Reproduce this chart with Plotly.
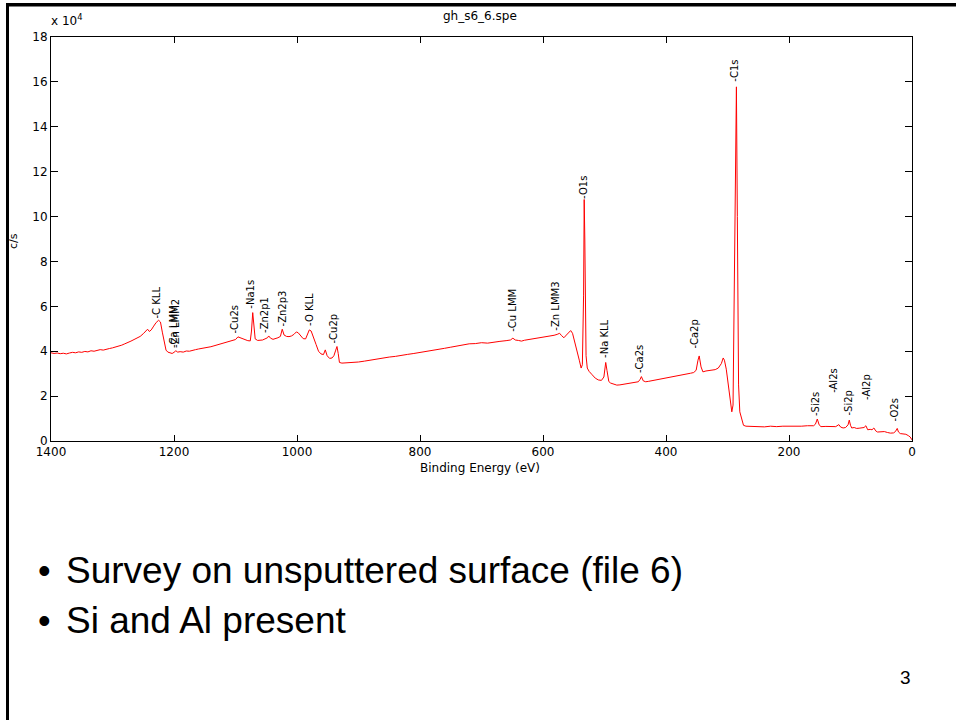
import plotly.graph_objects as go

# ---------------- data ----------------
binding_energy = [
    1400, 1395, 1390, 1385, 1380, 1375, 1370, 1365, 1360, 1355, 1350, 1345, 1340, 1335,
    1330, 1325, 1320, 1315, 1310, 1305, 1300, 1295, 1290, 1285, 1280, 1275, 1270, 1265,
    1260, 1255, 1250, 1246, 1243, 1240, 1237, 1233, 1229, 1225, 1222, 1219, 1216, 1213,
    1210, 1206, 1203, 1200, 1197, 1194, 1190, 1185, 1180, 1175, 1170, 1165, 1160, 1155,
    1150, 1145, 1140, 1135, 1130, 1125, 1120, 1115, 1110, 1105, 1100, 1096, 1092, 1088,
    1084, 1080, 1076, 1074, 1072, 1070, 1068, 1064, 1060, 1056, 1052, 1048, 1046, 1043,
    1039, 1035, 1031, 1027, 1024, 1021, 1017, 1013, 1009, 1005, 1001, 998, 994, 990,
    986, 983, 980, 977, 973, 969, 965, 961, 957, 954, 951, 947, 943, 940,
    937, 935, 933, 931, 927, 920, 910, 900, 890, 880, 870, 860, 850, 840,
    830, 820, 810, 800, 790, 780, 770, 760, 750, 740, 730, 720, 710, 700,
    690, 680, 670, 660, 653, 649, 645, 640, 635, 630, 620, 610, 600, 590,
    582, 577, 573, 570, 566, 562, 558, 555, 552, 548, 545, 541, 538, 536,
    534, 533, 532, 530, 528, 525, 520, 515, 510, 505, 501, 498, 496, 493,
    490, 485, 480, 475, 470, 465, 460, 455, 450, 445, 442, 440, 437, 433,
    428, 420, 410, 400, 390, 380, 370, 360, 355, 351, 348, 346, 343, 340,
    335, 330, 325, 320, 315, 310, 307, 305, 302, 299, 296, 293, 291, 289,
    287, 285.5, 284, 282, 280, 277, 274, 270, 260, 250, 240, 230, 220, 210,
    200, 190, 180, 170, 165, 160, 157, 154, 151, 148, 140, 130, 124, 119,
    116, 112, 108, 104, 102, 100, 98, 94, 90, 86, 82, 78, 75, 72,
    68, 65, 62, 59, 56, 50, 45, 40, 35, 30, 27, 24, 22, 19,
    15, 10, 6, 3, 0,
]
intensity_1e4 = [
    3.93, 3.90, 3.92, 3.89, 3.91, 3.88, 3.92, 3.95, 3.93, 3.97, 3.95, 3.99, 3.97, 4.02,
    4.00, 4.04, 4.07, 4.05, 4.10, 4.12, 4.15, 4.18, 4.22, 4.27, 4.33, 4.38, 4.45, 4.52,
    4.58, 4.66, 4.78, 4.92, 4.98, 4.88, 4.95, 5.12, 5.28, 5.38, 5.30, 4.85, 4.35, 4.05,
    3.96, 3.92, 3.90, 3.95, 4.02, 3.96, 3.98, 3.96, 4.01, 4.00, 4.05, 4.07, 4.10, 4.12,
    4.15, 4.17, 4.20, 4.24, 4.28, 4.30, 4.35, 4.38, 4.42, 4.47, 4.52, 4.64, 4.60, 4.55,
    4.50, 4.47, 4.46, 4.90, 5.72, 5.10, 4.55, 4.48, 4.49, 4.50, 4.55, 4.60, 4.68, 4.58,
    4.53, 4.55, 4.60, 4.66, 4.98, 4.72, 4.66, 4.65, 4.68, 4.75, 4.86, 4.82, 4.68, 4.56,
    4.55, 4.72, 4.95, 4.90, 4.55, 4.30, 4.00, 3.88, 3.85, 4.06, 3.80, 3.68, 3.70, 3.80,
    4.05, 4.21, 3.90, 3.50, 3.47, 3.48, 3.50, 3.52, 3.56, 3.61, 3.66, 3.70, 3.74, 3.77,
    3.83, 3.86, 3.90, 3.94, 3.98, 4.03, 4.08, 4.13, 4.18, 4.24, 4.30, 4.33, 4.34, 4.38,
    4.36, 4.41, 4.44, 4.47, 4.50, 4.58, 4.50, 4.48, 4.45, 4.49, 4.53, 4.57, 4.63, 4.67,
    4.71, 4.75, 4.80, 4.70, 4.60, 4.72, 4.85, 4.92, 4.80, 4.40, 4.00, 3.60, 3.25, 3.40,
    6.50, 10.76, 9.00, 3.80, 3.25, 3.10, 2.95, 2.80, 2.72, 2.70, 2.85, 3.50, 3.15, 2.65,
    2.58, 2.53, 2.49, 2.50, 2.52, 2.55, 2.57, 2.60, 2.62, 2.64, 2.75, 2.87, 2.68, 2.64,
    2.66, 2.70, 2.74, 2.80, 2.86, 2.91, 2.96, 3.02, 3.05, 3.15, 3.60, 3.79, 3.30, 3.08,
    3.12, 3.15, 3.16, 3.18, 3.25, 3.45, 3.70, 3.60, 3.20, 2.50, 1.80, 1.30, 1.60, 6.00,
    12.00, 15.78, 10.00, 2.50, 1.30, 0.95, 0.70, 0.66, 0.64, 0.65, 0.63, 0.66, 0.64, 0.66,
    0.65, 0.67, 0.66, 0.68, 0.67, 0.68, 0.75, 0.98, 0.72, 0.64, 0.65, 0.63, 0.64, 0.73,
    0.62, 0.58, 0.60, 0.72, 0.93, 0.70, 0.58, 0.60, 0.56, 0.57, 0.58, 0.60, 0.68, 0.50,
    0.52, 0.50, 0.58, 0.45, 0.40, 0.40, 0.42, 0.38, 0.35, 0.36, 0.42, 0.56, 0.40, 0.33,
    0.32, 0.30, 0.24, 0.18, 0.05,
]

peak_labels = ["-C KLL", "-Ca LMM", "-Zn LMM2", "-Cu2s", "-Na1s", "-Zn2p1", "-Zn2p3",
               "-O KLL", "-Cu2p", "-Cu LMM", "-Zn LMM3", "-O1s", "-Na KLL", "-Ca2s",
               "-Ca2p", "-C1s", "-Si2s", "-Al2s", "-Si2p", "-Al2p", "-O2s"]
peak_energy = [1229, 1201, 1198, 1101, 1075, 1054, 1024, 980, 941, 649, 579, 535, 499, 444,
               353, 288, 156, 128, 104, 75, 28]
peak_label_base = [5.42, 4.09, 4.09, 4.76, 5.87, 4.76, 5.07, 5.07, 4.31, 4.84, 4.89, 10.76,
                   3.64, 2.98, 4.09, 15.96, 1.07, 2.09, 1.07, 1.78, 0.84]

x_tick_values = [1400, 1200, 1000, 800, 600, 400, 200, 0]
y_tick_values = [0, 2, 4, 6, 8, 10, 12, 14, 16, 18]

chart_title = "gh_s6_6.spe"
x_title = "Binding Energy (eV)"
y_title = "c/s"
bullets = ["Survey on unsputtered surface (file 6)", "Si and Al present"]
page_number = "3"

# ---------------- layout helpers (pixel -> paper) ----------------
W, H = 956, 720
L, R, T, B = 51, 912, 37, 441


def px(x):
    return (x - L) / (R - L)


def py(y):
    return (B - y) / (B - T)


AX_FONT = dict(family="DejaVu Sans", size=12, color="black")

fig = go.Figure()
fig.add_trace(go.Scatter(
    x=binding_energy, y=intensity_1e4, mode="lines",
    line=dict(color="#ff0000", width=1), hoverinfo="skip", showlegend=False,
))

annotations = []
for name, e, base in zip(peak_labels, peak_energy, peak_label_base):
    annotations.append(dict(
        x=e, y=base, xref="x", yref="y", text=name, textangle=-90,
        xanchor="center", yanchor="bottom", showarrow=False, borderpad=0,
        font=dict(family="DejaVu Sans", size=10, color="black"),
    ))

annotations += [
    dict(x=px(480), y=py(16), xref="paper", yref="paper", text=chart_title,
         showarrow=False, xanchor="center", yanchor="middle", font=AX_FONT),
    dict(x=px(480), y=py(468), xref="paper", yref="paper", text=x_title,
         showarrow=False, xanchor="center", yanchor="middle", font=AX_FONT),
    dict(x=px(13), y=py(241), xref="paper", yref="paper", text=y_title, textangle=-90,
         showarrow=False, xanchor="center", yanchor="middle",
         font=dict(family="DejaVu Sans", size=11, color="black")),
    dict(x=px(49), y=py(20), xref="paper", yref="paper", text="x 10<sup>4</sup>",
         showarrow=False, xanchor="left", yanchor="middle",
         font=dict(family="DejaVu Sans", size=12, color="black")),
    dict(x=px(44), y=py(570), xref="paper", yref="paper", text="•",
         showarrow=False, xanchor="center", yanchor="middle",
         font=dict(family="Liberation Sans", size=36, color="black")),
    dict(x=px(64), y=py(570), xref="paper", yref="paper", text=bullets[0],
         showarrow=False, xanchor="left", yanchor="middle",
         font=dict(family="Liberation Sans", size=37, color="black")),
    dict(x=px(44), y=py(620), xref="paper", yref="paper", text="•",
         showarrow=False, xanchor="center", yanchor="middle",
         font=dict(family="Liberation Sans", size=36, color="black")),
    dict(x=px(64), y=py(620), xref="paper", yref="paper", text=bullets[1],
         showarrow=False, xanchor="left", yanchor="middle",
         font=dict(family="Liberation Sans", size=37, color="black")),
    dict(x=px(905), y=py(678), xref="paper", yref="paper", text=page_number,
         showarrow=False, xanchor="center", yanchor="middle",
         font=dict(family="Liberation Sans", size=19, color="black")),
]

# slide frame: left and top black edges, drawn as filled rectangles
shapes = [
    dict(type="rect", xref="paper", yref="paper", layer="above",
         x0=px(6), x1=px(9), y0=py(3), y1=py(725),
         fillcolor="black", line=dict(width=0)),
    dict(type="rect", xref="paper", yref="paper", layer="above",
         x0=px(6), x1=px(960), y0=py(3), y1=py(6.5),
         fillcolor="black", line=dict(width=0)),
]

fig.update_layout(
    width=W, height=H,
    margin=dict(l=L, r=W - R, t=T, b=H - B),
    paper_bgcolor="white", plot_bgcolor="white",
    showlegend=False,
    annotations=annotations, shapes=shapes,
    xaxis=dict(range=[1400, 0], tickmode="array", tickvals=x_tick_values,
               ticks="inside", ticklen=6, tickwidth=1, tickcolor="black",
               showline=True, linecolor="black", linewidth=1, mirror="allticks",
               showgrid=False, zeroline=False, tickfont=AX_FONT),
    yaxis=dict(range=[0, 18], tickmode="array", tickvals=y_tick_values,
               ticks="inside", ticklen=7, tickwidth=1, tickcolor="black",
               showline=True, linecolor="black", linewidth=1, mirror="allticks",
               showgrid=False, zeroline=False, tickfont=AX_FONT),
)

fig.write_html(
    "out.html",
    config={"displayModeBar": False},
    post_script="document.body.style.margin='0px';document.body.style.overflow='hidden';",
)
